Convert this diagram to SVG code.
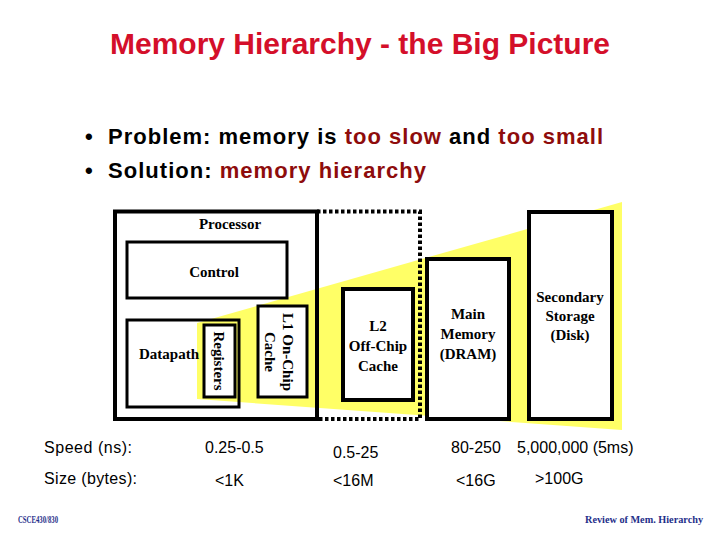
<svg xmlns="http://www.w3.org/2000/svg" width="720" height="540" viewBox="0 0 720 540">
<style>
.title{font-family:"Liberation Sans",Arial,sans-serif;font-weight:bold;font-size:30px;fill:#d40f2a}
.bul{font-family:"Liberation Sans",Arial,sans-serif;font-weight:bold;font-size:22px;fill:#000}
.hl{fill:#8e0c0c}
.box{fill:#fff;stroke:#000;stroke-width:4}
.thin{stroke-width:3}
.lbl{font-family:"Liberation Serif","Times New Roman",serif;font-weight:bold;font-size:15px;fill:#000;text-anchor:middle}
.row{font-family:"Liberation Sans",Arial,sans-serif;font-size:16px;fill:#000}
.foot{font-family:"Liberation Serif","Times New Roman",serif;font-weight:bold;font-size:10px;fill:#1f2f8a}
.dot{fill:none;stroke:#000;stroke-width:4;stroke-dasharray:3.5 2.5}
</style>
<rect width="720" height="540" fill="#fff"/>
<text class="title" x="360" y="54" text-anchor="middle" textLength="500" lengthAdjust="spacing">Memory Hierarchy - the Big Picture</text>
<g id="bullets">
<text class="bul" x="85" y="144">•</text>
<text class="bul" x="108" y="144" textLength="495" lengthAdjust="spacing">Problem: memory is <tspan class="hl">too slow</tspan> and <tspan class="hl">too small</tspan></text>
<text class="bul" x="85" y="178">•</text>
<text class="bul" x="108" y="178" textLength="318" lengthAdjust="spacing">Solution: <tspan class="hl">memory hierarchy</tspan></text>
</g>
<polygon id="pyramid" points="197,323 622,202 622,430 197,399" fill="#ffff66"/>
<g id="connectors">
<polyline class="dot" points="317,211.5 420,211.5 420,419 317,419"/>
</g>
<g id="processor">
<rect x="115" y="211.5" width="202" height="207.5" fill="none" stroke="#000" stroke-width="4"/>
<text class="lbl" x="230" y="229">Processor</text>
</g>
<g id="control">
<rect class="box thin" x="127" y="242" width="160" height="56"/>
<text class="lbl" x="214" y="277">Control</text>
</g>
<g id="datapath">
<rect x="127" y="320" width="112" height="87" fill="none" stroke="#000" stroke-width="3"/>
<text class="lbl" x="169" y="359">Datapath</text>
</g>
<g id="registers">
<rect class="box thin" x="204" y="325" width="31" height="72"/>
<text class="lbl" transform="translate(214,361) rotate(90)">Registers</text>
</g>
<g id="l1">
<rect class="box thin" x="258" y="306" width="49" height="91"/>
<text class="lbl" transform="translate(283,352) rotate(90)">L1 On-Chip</text>
<text class="lbl" transform="translate(265,352) rotate(90)">Cache</text>
</g>
<g id="l2">
<rect class="box" x="343" y="289" width="70" height="111"/>
<text class="lbl" x="378" y="331">L2</text>
<text class="lbl" x="378" y="351">Off-Chip</text>
<text class="lbl" x="378" y="371">Cache</text>
</g>
<g id="mainmem">
<rect class="box" x="427" y="259" width="82" height="160"/>
<text class="lbl" x="468" y="319">Main</text>
<text class="lbl" x="468" y="339">Memory</text>
<text class="lbl" x="468" y="359">(DRAM)</text>
</g>
<g id="secondary">
<rect class="box" x="529" y="212" width="83" height="207"/>
<text class="lbl" x="570" y="302">Secondary</text>
<text class="lbl" x="570" y="321">Storage</text>
<text class="lbl" x="570" y="340">(Disk)</text>
</g>
<g id="rows">
<text class="row" x="44" y="453" textLength="88" lengthAdjust="spacing">Speed (ns):</text>
<text class="row" x="205" y="453">0.25-0.5</text>
<text class="row" x="333" y="458">0.5-25</text>
<text class="row" x="451" y="453">80-250</text>
<text class="row" x="517" y="453">5,000,000 (5ms)</text>
<text class="row" x="44" y="484" textLength="93" lengthAdjust="spacing">Size (bytes):</text>
<text class="row" x="215" y="486">&lt;1K</text>
<text class="row" x="333" y="486">&lt;16M</text>
<text class="row" x="456" y="486">&lt;16G</text>
<text class="row" x="535" y="484">&gt;100G</text>
</g>
<text class="foot" x="18" y="523" textLength="40" lengthAdjust="spacingAndGlyphs">CSCE430/830</text>
<text class="foot" x="585" y="523" textLength="118" lengthAdjust="spacingAndGlyphs">Review of Mem. Hierarchy</text>
</svg>
